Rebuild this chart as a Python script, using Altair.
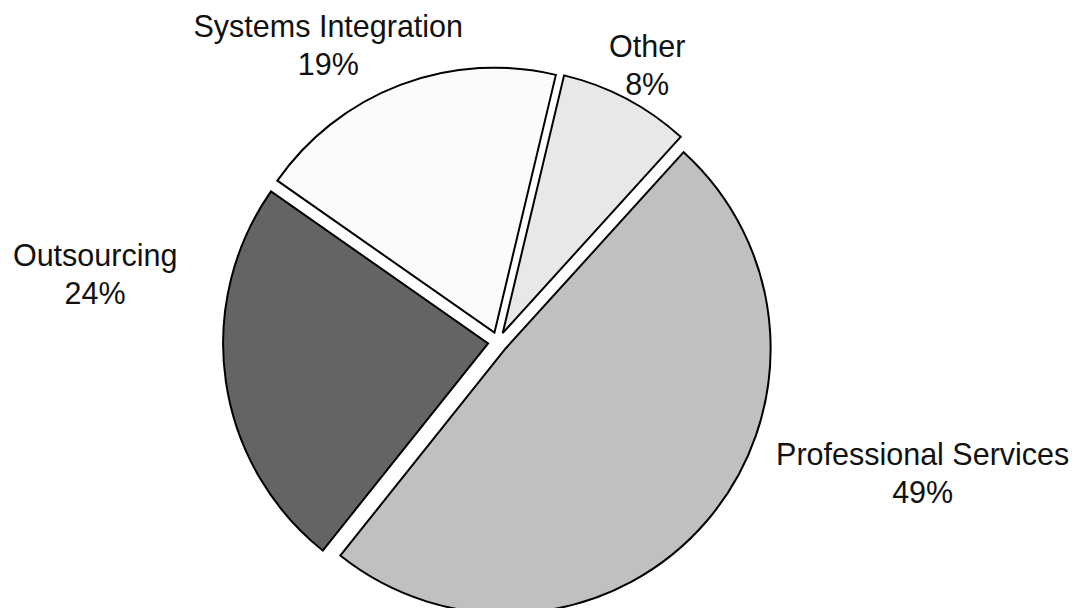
import math
import altair as alt
import pandas as pd

# ---- data ----
categories = ["Systems Integration", "Other", "Professional Services", "Outsourcing"]
shares = [19, 8, 49, 24]

# ---- styles ----
fills = ["#fbfbfb", "#e8e8e8", "#c0c0c0", "#646464"]

# ---- layout ----
W, H = 1066, 600
CX, CY = 490, 334          # pie centre inside the view
R = 265                    # pie radius
EXPLODE = 10               # distance each slice is pulled out
START_DEG = -55            # angle where the first slice begins (clockwise from 12 o'clock)
label_angle_deg = {"Systems Integration": 330.9, "Other": 27.6,
                   "Professional Services": 106.1, "Outsourcing": 280.7}
label_radius = {"Systems Integration": 349, "Other": 322,
                "Professional Services": 442, "Outsourcing": 410}

start_rad = math.radians(START_DEG)
total = sum(shares)

df = pd.DataFrame({"category": categories, "share": shares,
                   "order": list(range(len(categories)))})
df["la"] = df["category"].map(label_angle_deg)
df["lr"] = df["category"].map(label_radius)

base = (
    alt.Chart(df)
    .transform_window(cum="sum(share)", sort=[alt.SortField("order")], frame=[None, 0])
    .transform_joinaggregate(total="sum(share)")
    .transform_calculate(t0="datum.cum - datum.share")
    .transform_calculate(mid=f"{start_rad} + 2*PI*(datum.cum - datum.share/2)/datum.total")
    .transform_calculate(px=f"{CX} + {EXPLODE}*sin(datum.mid)")
    .transform_calculate(py=f"{CY} - {EXPLODE}*cos(datum.mid)")
)

arcs = base.mark_arc(outerRadius=R, stroke="black", strokeWidth=2, strokeJoin="miter").encode(
    theta=alt.Theta("t0:Q", scale=alt.Scale(domain=[0, total],
                                            range=[start_rad, start_rad + 2 * math.pi])),
    theta2="cum:Q",
    x=alt.X("px:Q", scale=None),
    y=alt.Y("py:Q", scale=None),
    fill=alt.Fill("category:N", scale=alt.Scale(domain=categories, range=fills), legend=None),
)

labels = (
    alt.Chart(df)
    .transform_calculate(lx=f"{CX} + datum.lr*sin(datum.la*PI/180)")
    .transform_calculate(ly=f"{CY} - datum.lr*cos(datum.la*PI/180)")
    .transform_calculate(label="datum.category + '|' + datum.share + '%'")
    .mark_text(font="Liberation Sans", fontSize=30.5, lineBreak="|", lineHeight=38,
               align="center", baseline="alphabetic", color="#111111")
    .encode(x=alt.X("lx:Q", scale=None), y=alt.Y("ly:Q", scale=None), text="label:N")
)

chart = (
    alt.layer(arcs, labels)
    .properties(width=W, height=H, padding=0, autosize=alt.AutoSizeParams(type="none"),
                background="white")
    .configure_view(stroke=None)
)

chart.save("out.html", embed_options={"renderer": "svg", "actions": False})
